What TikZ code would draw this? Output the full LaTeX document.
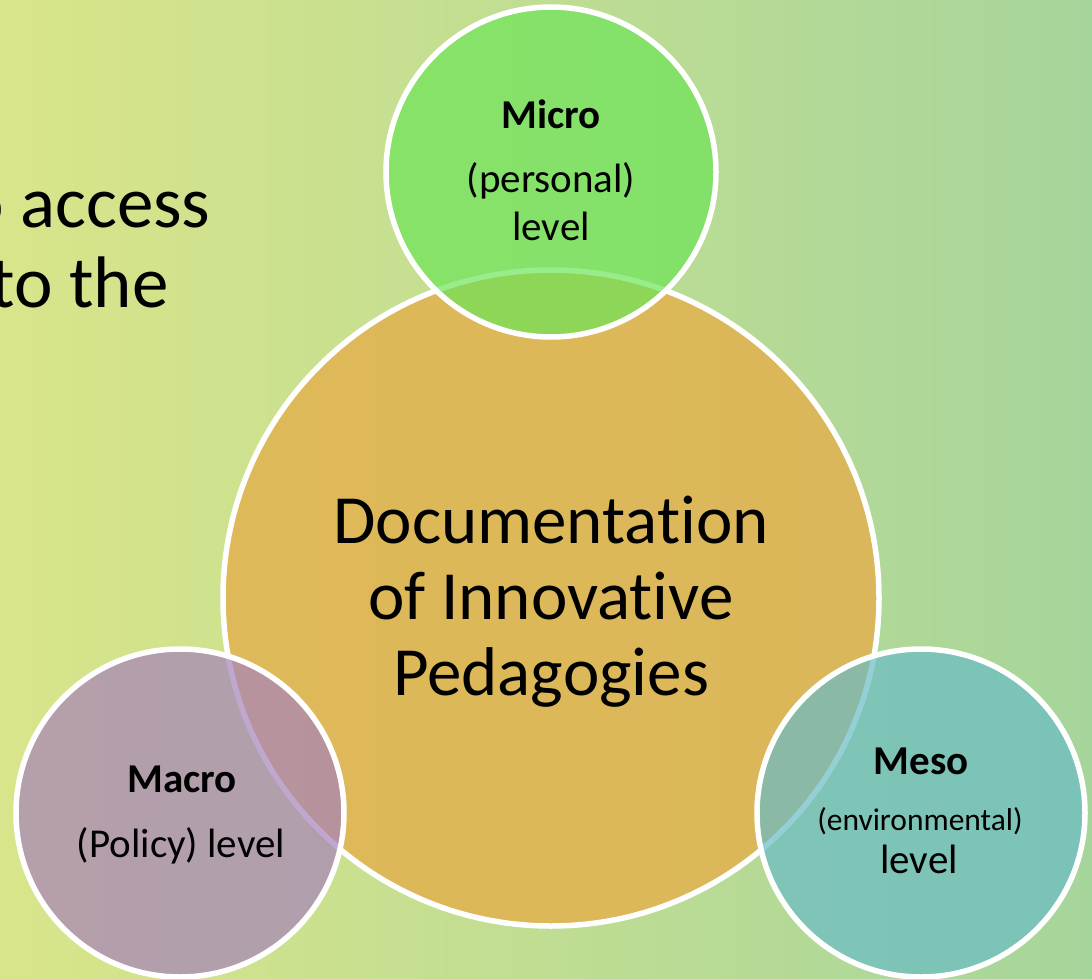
\documentclass[tikz,border=0pt]{standalone}
\usepackage{fontspec}
\setmainfont{Carlito}[Ligatures=NoCommon]

\definecolor{bgleft}{RGB}{217,229,138}
\definecolor{bgright}{RGB}{166,213,155}
\definecolor{coregold}{RGB}{226,178,80}
\definecolor{microgreen}{RGB}{109,228,88}
\definecolor{macropurple}{RGB}{166,131,186}
\definecolor{mesoteal}{RGB}{105,188,197}

\tikzset{
  ring/.style={circle, draw=white, line width=5.5pt, inner sep=0pt},
  smallring/.style={ring, minimum size=328pt, fill opacity=0.7, draw opacity=1},
  bigtext/.style={anchor=base, font=\fontsize{69}{69}\selectfont},
  headtext/.style={anchor=base, font=\fontsize{41}{41}\selectfont\bfseries},
  subtext/.style={anchor=base, font=\fontsize{41}{41}\selectfont},
}

\begin{document}
\begin{tikzpicture}[x=1pt, y=-1pt]
  \useasboundingbox (0,0) rectangle (1092,979);

  % Background and the slide text behind the diagram
  \begin{scope}
    \clip (0,0) rectangle (1092,979);
    \shade[left color=bgleft, right color=bgright] (0,0) rectangle (1092,979);
    \node[anchor=base east, font=\fontsize{73}{73}\selectfont] (line1) at (214,227) {to access};
    \node[anchor=base east, font=\fontsize{73}{73}\selectfont] (line2) at (172,307) {to the};
  \end{scope}

  % Central circle
  \node[ring, minimum size=656pt, fill=coregold, fill opacity=0.85] (core) at (551,598) {};

  % The three levels
  \node[smallring, minimum size=330pt, fill=microgreen] (micro) at (551,172) {};
  \node[smallring, fill=macropurple] (macro) at (180,813) {};
  \node[smallring, fill=mesoteal] (meso) at (921,813) {};

  % Central label
  \node[bigtext] (doc1) at (551,543) {Documentation};
  \node[bigtext] (doc2) at (551,619) {of Innovative};
  \node[bigtext] (doc3) at (551,695) {Pedagogies};

  % Micro label
  \node[headtext] (microhead) at (551,129) {Micro};
  \node[subtext] (microsub) at (551,192) {(personal)};
  \node[subtext] (microlvl) at (551,240) {level};

  % Macro label
  \node[headtext] (macrohead) at (182,792) {Macro};
  \node[subtext] (macrosub) at (181,857) {(Policy) level};

  % Meso label
  \node[headtext] (mesohead) at (921,774) {Meso};
  \node[subtext, font=\fontsize{31.5}{31.5}\selectfont] (mesosub) at (920,830) {(environmental)};
  \node[subtext] (mesolvl) at (919,873) {level};
\end{tikzpicture}
\end{document}
